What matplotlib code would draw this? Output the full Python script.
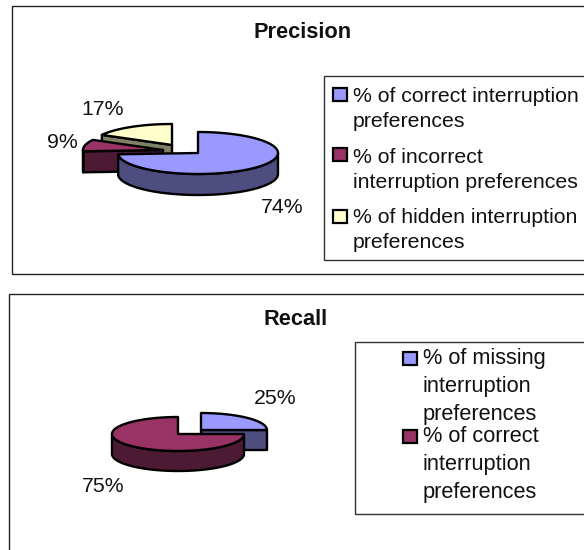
import numpy as np
from matplotlib import pyplot as plt
from matplotlib.patches import Polygon, Rectangle

plt.rcParams['font.family'] = ['Liberation Sans', 'DejaVu Sans']

# data
precision_values = [74, 9, 17]
recall_values = [25, 75]
precision_legend = ['% of correct interruption\npreferences',
                    '% of incorrect\ninterruption preferences',
                    '% of hidden interruption\npreferences']
recall_legend = ['% of missing\ninterruption\npreferences',
                 '% of correct\ninterruption\npreferences']

top_cols = ['#9999FF', '#993366', '#FFFFCC']
side_cols = ['#4D4D80', '#4D1A33', '#808066']
txt = '#111111'


def slice3d(ax, cx, cy, rx, ry, depth, a1, a2, top, side):
	# a1,a2 in degrees, counter clockwise, y axis of the picture points down
	t = np.radians(np.linspace(a1, a2, 200))
	xs = cx + rx*np.cos(t)
	ys = cy - ry*np.sin(t)
	kw = dict(ec='black', lw=1.7, joinstyle='round')
	# cut faces that look to the viewer
	if np.cos(np.radians(a2)) < -1e-6:
		ax.add_patch(Polygon([(cx, cy), (xs[-1], ys[-1]), (xs[-1], ys[-1]+depth), (cx, cy+depth)], fc=side, **kw))
	if np.cos(np.radians(a1)) > 1e-6:
		ax.add_patch(Polygon([(cx, cy), (xs[0], ys[0]), (xs[0], ys[0]+depth), (cx, cy+depth)], fc=side, **kw))
	# outer rim
	front = np.sin(t) < 0
	if front.sum() > 1:
		fx, fy = xs[front], ys[front]
		rim = np.r_[np.c_[fx, fy], np.c_[fx, fy+depth][::-1]]
		ax.add_patch(Polygon(rim, fc=side, **kw))
	ax.add_patch(Polygon(np.r_[[(cx, cy)], np.c_[xs, ys]], fc=top, **kw))


def pie3d(ax, values, centres, rx, ry, depth, order):
	edges = 90 - 3.6*np.cumsum([0] + list(values))
	for i in order:
		slice3d(ax, centres[i][0], centres[i][1], rx, ry, depth, edges[i+1], edges[i], top_cols[i], side_cols[i])


def legend_box(ax, entries, box, swatch_x, swatches_y, text_x, baselines, gap, size):
	ax.add_patch(Rectangle((box[0], box[1]), 300, box[2]-box[1], fc='white', ec='#333333', lw=1))
	for i, s in enumerate(entries):
		ax.add_patch(Rectangle((swatch_x, swatches_y[i]), 14, 13, fc=top_cols[i], ec='black', lw=1.6))
		for j, line in enumerate(s.split('\n')):
			ax.text(text_x, baselines[i]+j*gap, line, fontsize=size, color=txt, ha='left', va='baseline')


fig = plt.figure(figsize=(5.84, 5.5), dpi=100)
ax = fig.add_axes([0, 0, 1, 1])
ax.set_xlim(0, 584)
ax.set_ylim(550, 0)
ax.axis('off')

# top chart
ax.add_patch(Rectangle((12, 6), 620, 268, fc='white', ec='#222222', lw=1))
ax.text(303, 38, 'Precision', fontsize=15.7, fontweight='bold', color=txt, ha='center', va='baseline')
pie3d(ax, precision_values, [(198, 153), (163, 150), (172, 145)], 80, 21, 21, [2, 1, 0])
ax.text(282, 213, '%d%%' % precision_values[0], fontsize=15.3, color=txt, ha='center', va='baseline')
ax.text(62, 148, '%d%%' % precision_values[1], fontsize=15.3, color=txt, ha='center', va='baseline')
ax.text(103, 115, '%d%%' % precision_values[2], fontsize=15.3, color=txt, ha='center', va='baseline')
legend_box(ax, precision_legend, (324, 76, 260), 333, [88, 148, 210], 353, [102, 163, 223], 25, 15.3)

# bottom chart
ax.add_patch(Rectangle((9, 294), 620, 300, fc='white', ec='#222222', lw=1))
ax.text(295.5, 325, 'Recall', fontsize=15.7, fontweight='bold', color=txt, ha='center', va='baseline')
pie3d(ax, recall_values, [(201, 430), (178, 434)], 66, 17, 20, [0, 1])
ax.text(275, 404, '%d%%' % recall_values[0], fontsize=15.3, color=txt, ha='center', va='baseline')
ax.text(103, 492, '%d%%' % recall_values[1], fontsize=15.3, color=txt, ha='center', va='baseline')
legend_box(ax, recall_legend, (355, 342, 514), 403, [352, 430], 423, [364, 442], 28, 15.7)

fig.savefig('out.png', dpi=100)
